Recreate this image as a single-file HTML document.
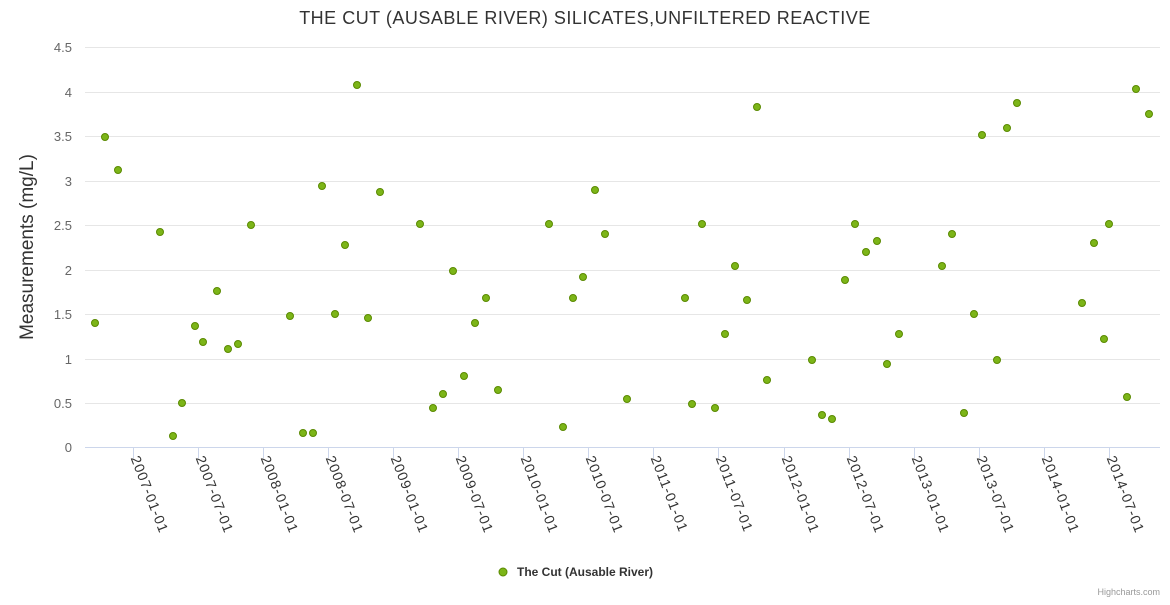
<!DOCTYPE html>
<html><head><meta charset="utf-8"><style>body{margin:0;background:#fff}svg{font-family:"Liberation Sans",sans-serif}</style></head><body>
<svg width="1170" height="600" xmlns="http://www.w3.org/2000/svg">
<text x="585" y="24" text-anchor="middle" font-size="18" fill="#333" letter-spacing="0.5">THE CUT (AUSABLE RIVER) SILICATES,UNFILTERED REACTIVE</text>
<g stroke="#e6e6e6" stroke-width="1">
<line x1="85" x2="1160" y1="47.5" y2="47.5"/><line x1="85" x2="1160" y1="92.5" y2="92.5"/><line x1="85" x2="1160" y1="136.5" y2="136.5"/><line x1="85" x2="1160" y1="181.5" y2="181.5"/><line x1="85" x2="1160" y1="225.5" y2="225.5"/><line x1="85" x2="1160" y1="270.5" y2="270.5"/><line x1="85" x2="1160" y1="314.5" y2="314.5"/><line x1="85" x2="1160" y1="359.5" y2="359.5"/><line x1="85" x2="1160" y1="403.5" y2="403.5"/>
</g>
<line x1="85" x2="1160" y1="447.5" y2="447.5" stroke="#ccd6eb"/>
<g font-size="13" fill="#666" text-anchor="end">
<text x="72" y="52">4.5</text><text x="72" y="97">4</text><text x="72" y="141">3.5</text><text x="72" y="186">3</text><text x="72" y="230">2.5</text><text x="72" y="275">2</text><text x="72" y="319">1.5</text><text x="72" y="364">1</text><text x="72" y="408">0.5</text><text x="72" y="452">0</text>
</g>
<text transform="translate(33,247) rotate(-90)" text-anchor="middle" font-size="19" fill="#333">Measurements (mg/L)</text>
<g id="ticks" stroke="#ccd6eb"></g>
<g id="labels" font-size="14" fill="#333" letter-spacing="1"></g>
<g id="pts" fill="#7cb518" stroke="#5a8a00" stroke-width="1"></g>
<circle cx="503" cy="572" r="4" fill="#7cb518" stroke="#5a8a00"/>
<text x="517" y="576" font-size="12" font-weight="bold" fill="#333">The Cut (Ausable River)</text>
<text x="1160" y="595" text-anchor="end" font-size="9" fill="#999">Highcharts.com</text>
<script>
var ns="http://www.w3.org/2000/svg";
var labs=["2007-01-01","2007-07-01","2008-01-01","2008-07-01","2009-01-01","2009-07-01","2010-01-01","2010-07-01","2011-01-01","2011-07-01","2012-01-01","2012-07-01","2013-01-01","2013-07-01","2014-01-01","2014-07-01"];
var T=document.getElementById("ticks"),L=document.getElementById("labels"),P=document.getElementById("pts");
labs.forEach(function(s,i){var x=Math.round(132.5+i*65.1)+0.5;
var l=document.createElementNS(ns,"line");l.setAttribute("x1",x);l.setAttribute("x2",x);l.setAttribute("y1",448);l.setAttribute("y2",458);T.appendChild(l);
var t=document.createElementNS(ns,"text");t.setAttribute("transform","translate("+(x-3)+",458) rotate(69)");t.textContent=s;L.appendChild(t);});
var p=[[95,323],[105,137],[118,170],[160,232],[173,436],[182,403],[195,326],[203,342],[217,291],[228,349],[238,344],[251,225],[290,316],[303,433],[313,433],[322,186],[335,314],[345,245],[357,85],[368,318],[380,192],[420,224],[433,408],[443,394],[453,271],[464,376],[475,323],[486,298],[498,390],[549,224],[563,427],[573,298],[583,277],[595,190],[605,234],[627,399],[685,298],[692,404],[702,224],[715,408],[725,334],[735,266],[747,300],[757,107],[767,380],[812,360],[822,415],[832,419],[845,280],[855,224],[866,252],[877,241],[887,364],[899,334],[942,266],[952,234],[964,413],[974,314],[982,135],[997,360],[1007,128],[1017,103],[1082,303],[1094,243],[1104,339],[1109,224],[1127,397],[1136,89],[1149,114]];
p.forEach(function(q){var c=document.createElementNS(ns,"circle");c.setAttribute("cx",q[0]);c.setAttribute("cy",q[1]);c.setAttribute("r",3.5);P.appendChild(c);});
</script>
</svg>
</body></html>
